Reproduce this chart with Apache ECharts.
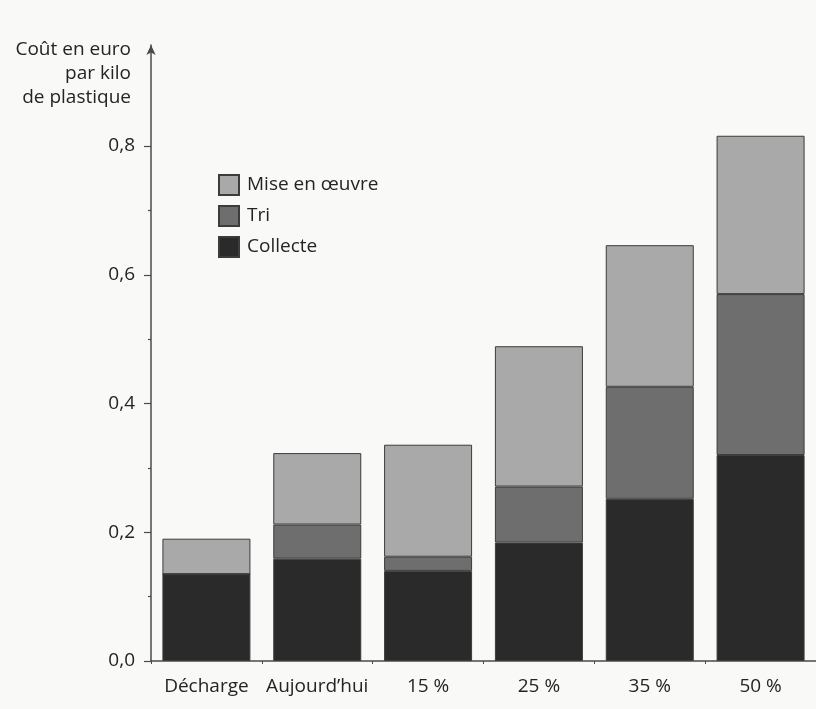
<!DOCTYPE html>
<html>
<head>
<meta charset="utf-8">
<script src="https://cdn.jsdelivr.net/npm/echarts@6/dist/echarts.min.js"></script>
<style>
  html, body { margin: 0; padding: 0; background: #f9f9f7; }
  #chart { width: 816px; height: 709px; }
</style>
</head>
<body>
<div id="chart"></div>
<script>
// Scenarios on the horizontal axis
const categories = ['Décharge', 'Aujourd\u2019hui', '15 %', '25 %', '35 %', '50 %'];

// Cost components, euro per kilo of plastic (stacked from the bottom)
const collecte = [0.135, 0.159, 0.140, 0.184, 0.252, 0.320];
const tri = [0.000, 0.053, 0.022, 0.087, 0.174, 0.250];
const miseEnOeuvre = [0.055, 0.111, 0.174, 0.218, 0.220, 0.246];

// Y axis labelled ticks and small ticks
const yLabelValues = [0, 0.2, 0.4, 0.6, 0.8];
const yMinorValues = [0.1, 0.3, 0.5, 0.7];
const yTitle = 'Coût en euro\npar kilo\nde plastique';

const FONT = '"Open Sans", "DejaVu Sans", sans-serif';
const FS = 19;
const TEXT = '#242424';
const AXIS = '#4a4a4a';
const EDGE = '#3c3c3c';

const chart = echarts.init(document.getElementById('chart'));

const fmt = v => v.toFixed(1).replace('.', ',');

function barSeries(name, data, color) {
  return {
    name: name,
    type: 'bar',
    stack: 'cout',
    data: data,
    barWidth: 88,
    itemStyle: { color: color, borderColor: EDGE, borderWidth: 1 },
    emphasis: { disabled: true }
  };
}

chart.setOption({
  backgroundColor: '#f9f9f7',
  animation: false,
  textStyle: { fontFamily: FONT, color: TEXT },
  grid: { left: 151, right: 0, top: 45, bottom: 48, containLabel: false },
  legend: {
    orient: 'vertical',
    left: 213,
    top: 169,
    itemWidth: 20,
    itemHeight: 20,
    itemGap: 9,
    icon: 'rect',
    selectedMode: false,
    textStyle: { fontFamily: FONT, fontSize: FS, color: TEXT, padding: [0, 0, 0, 3] },
    data: ['Mise en \u0153uvre', 'Tri', 'Collecte']
  },
  xAxis: {
    type: 'category',
    data: categories,
    axisLine: { lineStyle: { color: AXIS, width: 1.5 } },
    axisTick: { show: true, length: 3, lineStyle: { color: AXIS } },
    axisLabel: { interval: 0, fontFamily: FONT, fontSize: FS, color: TEXT, margin: 16 }
  },
  yAxis: [{
    type: 'value',
    min: 0,
    max: 0.957,
    splitLine: { show: false },
    axisLine: {
      show: true,
      symbol: ['none', 'arrow'],
      symbolSize: [7, 10],
      lineStyle: { color: AXIS, width: 1.5 }
    },
    axisTick: { show: true, length: 7, customValues: yLabelValues, lineStyle: { color: AXIS, width: 1.2 } },
    axisLabel: { customValues: yLabelValues, formatter: fmt, fontFamily: FONT, fontSize: FS, color: TEXT, margin: 16 }
  }, {
    type: 'value',
    min: 0,
    max: 0.957,
    position: 'left',
    splitLine: { show: false },
    axisLine: { show: false },
    axisTick: { show: true, length: 3, customValues: yMinorValues, lineStyle: { color: AXIS, width: 1.2 } },
    axisLabel: { show: false }
  }],
  graphic: [{
    type: 'text',
    x: 131,
    y: 38,
    style: {
      text: yTitle,
      fontFamily: FONT,
      fontSize: FS,
      lineHeight: 24,
      fill: TEXT,
      align: 'right'
    }
  }],
  series: [
    barSeries('Collecte', collecte, '#2a2a2a'),
    barSeries('Tri', tri, '#6e6e6e'),
    barSeries('Mise en \u0153uvre', miseEnOeuvre, '#a9a9a9')
  ]
});
</script>
</body>
</html>
